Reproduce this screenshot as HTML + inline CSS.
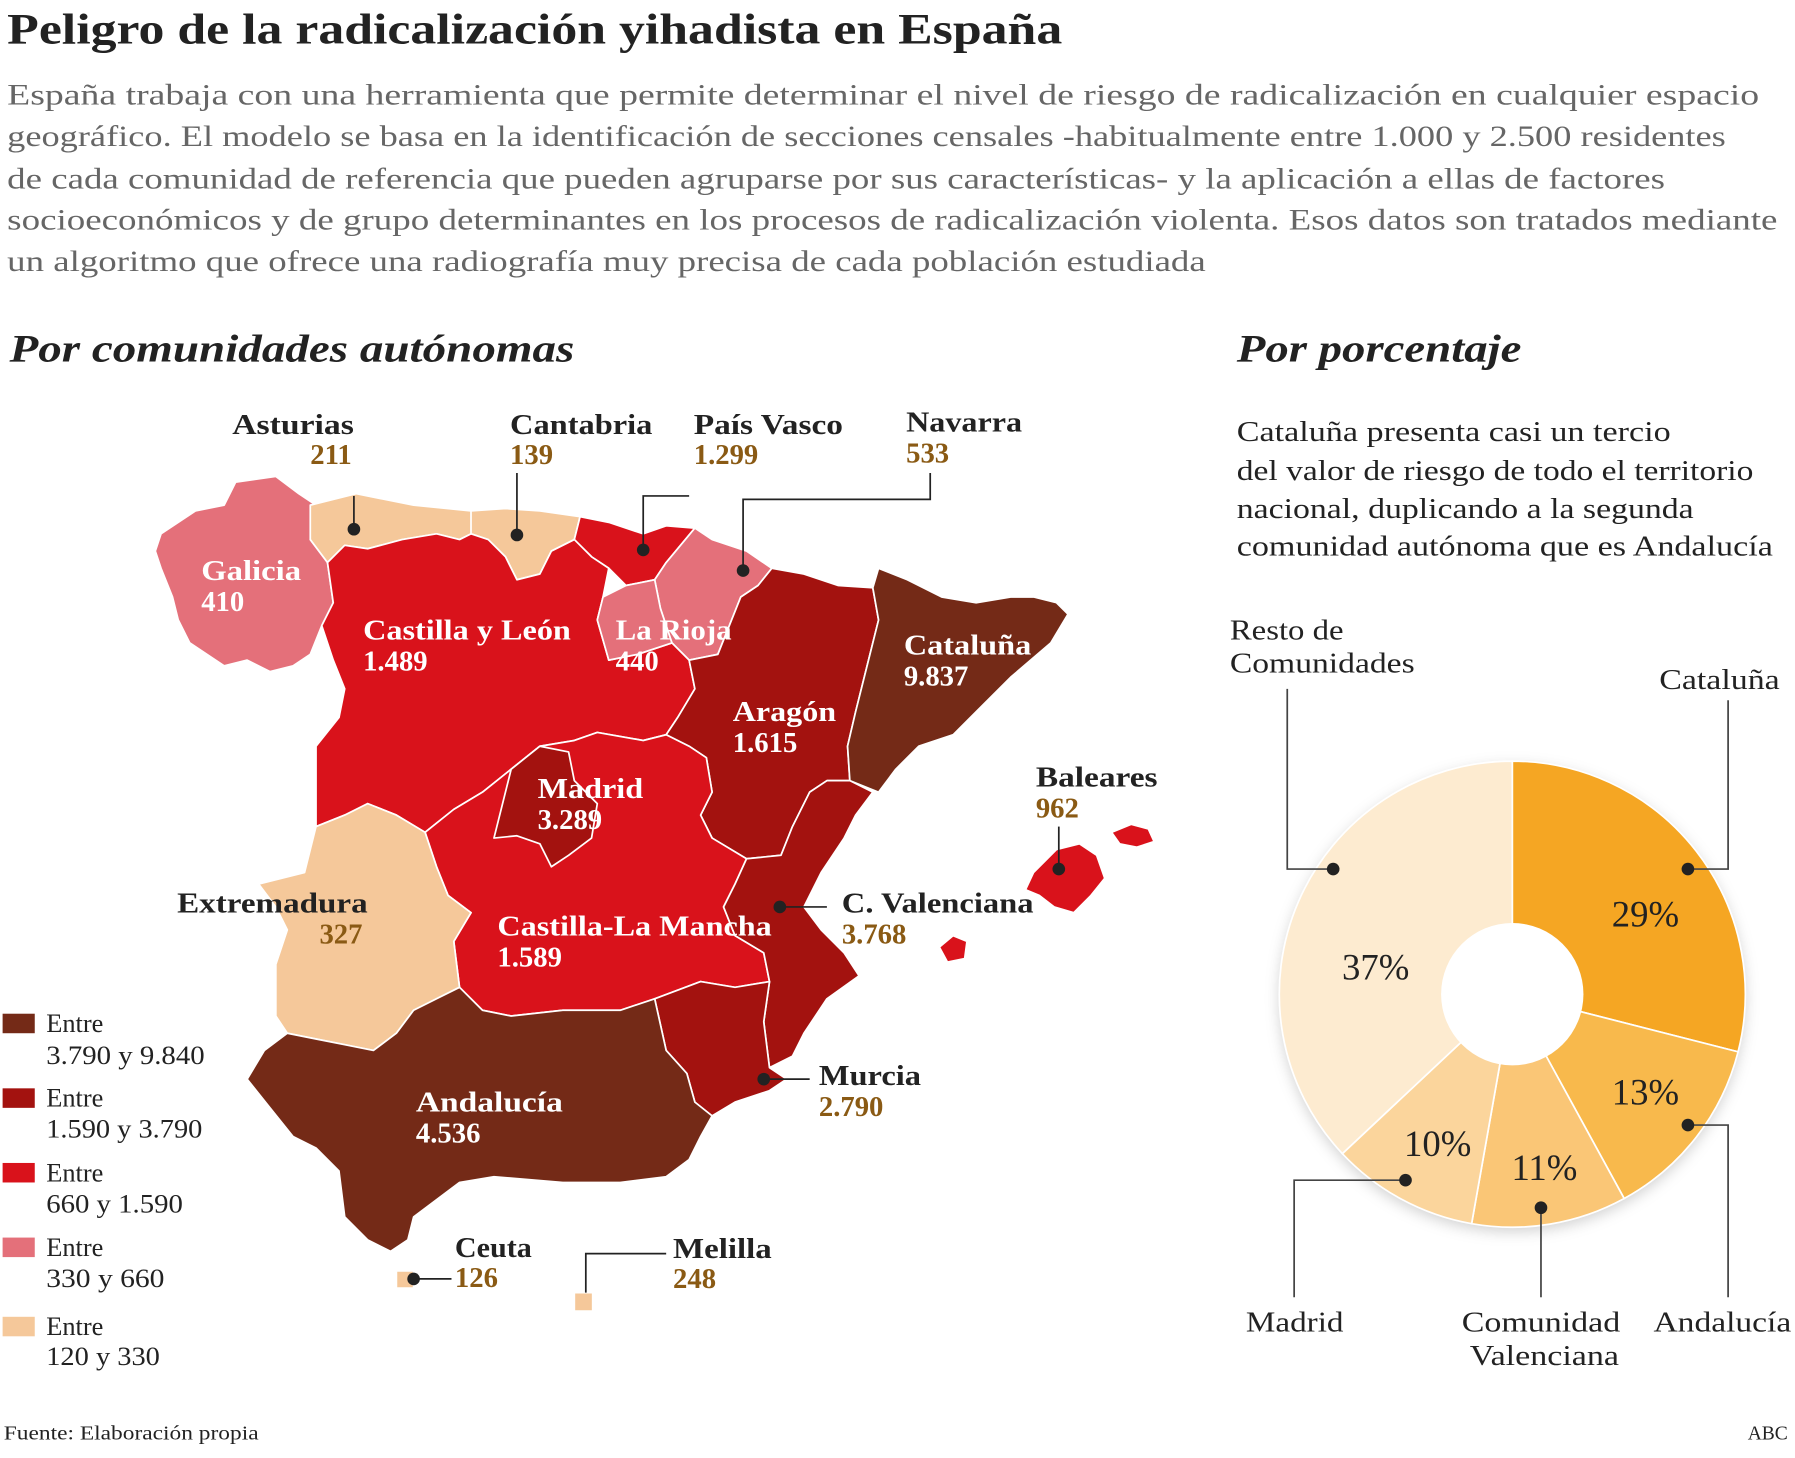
<!DOCTYPE html>
<html><head><meta charset="utf-8">
<style>
html,body{margin:0;padding:0;background:#fff;}
svg{display:block;}
text{font-family:"Liberation Serif",serif;}
.b{font-weight:bold;}
</style></head>
<body>
<svg width="1795" height="1458" viewBox="0 0 1563 1270" xmlns="http://www.w3.org/2000/svg">
<rect width="1563" height="1270" fill="#fff"/>
<text x="6" y="38" font-size="38" class="b" fill="#222" textLength="919" lengthAdjust="spacingAndGlyphs">Peligro de la radicalización yihadista en España</text>
<g font-size="26" fill="#666" lengthAdjust="spacingAndGlyphs">
<text x="6" y="91" textLength="1526" lengthAdjust="spacingAndGlyphs">España trabaja con una herramienta que permite determinar el nivel de riesgo de radicalización en cualquier espacio</text>
<text x="6" y="127" textLength="1497" lengthAdjust="spacingAndGlyphs">geográfico. El modelo se basa en la identificación de secciones censales -habitualmente entre 1.000 y 2.500 residentes</text>
<text x="6" y="164" textLength="1444" lengthAdjust="spacingAndGlyphs">de cada comunidad de referencia que pueden agruparse por sus características- y la aplicación a ellas de factores</text>
<text x="6" y="200" textLength="1542" lengthAdjust="spacingAndGlyphs">socioeconómicos y de grupo determinantes en los procesos de radicalización violenta. Esos datos son tratados mediante</text>
<text x="6" y="236" textLength="1044" lengthAdjust="spacingAndGlyphs">un algoritmo que ofrece una radiografía muy precisa de cada población estudiada</text>
</g>
<text x="8" y="315" font-size="34" font-style="italic" class="b" fill="#222" textLength="492" lengthAdjust="spacingAndGlyphs">Por comunidades autónomas</text>
<text x="1077" y="315" font-size="34" font-style="italic" class="b" fill="#222" textLength="248" lengthAdjust="spacingAndGlyphs">Por porcentaje</text>

<!-- map -->
<g stroke="#fff" stroke-width="1.5" stroke-linejoin="round">
<polygon fill="#e4707a" points="140,465 170,445 195,440 205,420 240,415 260,430 275,440 270,470 285,490 290,525 280,545 270,570 255,580 235,585 215,575 195,580 165,560 155,540 150,520 140,495 135,480"/>
<polygon fill="#f5c89a" points="270,440 310,430 360,440 410,445 420,460 410,465 400,470 380,465 350,470 320,478 300,475 285,490 270,470"/>
<polygon fill="#f5c89a" points="410,445 440,443 470,445 505,450 500,470 480,480 470,500 450,505 440,485 425,470 410,465"/>
<polygon fill="#d9121b" points="505,450 530,455 560,465 580,458 605,460 580,490 570,505 545,510 530,495 515,485 500,470"/>
<polygon fill="#e4707a" points="605,460 620,470 650,480 672,495 660,510 645,520 635,545 625,570 600,575 585,560 575,530 570,505 580,490"/>
<polygon fill="#d9121b" points="285,490 300,475 320,478 350,470 380,465 400,470 410,465 425,470 440,485 450,505 470,500 480,480 500,470 515,485 530,495 525,520 520,540 530,575 555,570 585,560 600,575 605,600 590,625 580,640 560,645 520,638 500,645 470,650 445,670 420,690 395,705 370,725 345,710 320,700 300,710 275,720 275,650 295,625 300,600 290,575 280,545 290,525"/>
<polygon fill="#e4707a" points="525,520 545,510 570,505 575,530 585,560 555,570 530,575 520,540"/>
<polygon fill="#a3120f" points="645,520 660,510 672,495 700,500 730,510 760,512 765,540 755,580 745,620 738,650 740,680 720,680 705,690 690,720 680,745 650,748 620,730 610,710 620,690 615,660 600,650 580,640 590,625 605,600 600,575 625,570 635,545"/>
<polygon fill="#742a17" points="760,512 765,495 790,505 820,520 850,525 880,520 900,520 920,525 930,535 915,560 880,590 850,620 830,640 800,650 780,670 765,690 740,680 738,650 745,620 755,580 765,540"/>
<polygon fill="#d9121b" points="370,725 395,705 420,690 445,670 470,650 500,645 520,638 560,645 580,640 600,650 615,660 620,690 610,710 620,730 650,748 640,770 630,790 640,815 665,830 670,855 640,860 610,855 570,870 540,880 490,880 445,885 420,880 400,860 395,820 410,795 390,780 380,755"/>
<polygon fill="#a3120f" points="445,670 470,650 495,655 500,680 520,700 515,730 495,745 480,755 470,735 450,728 430,730"/>
<polygon fill="#f5c89a" points="275,720 300,710 320,700 345,710 370,725 380,755 390,780 410,795 395,820 400,860 380,870 360,880 345,900 325,915 300,910 275,905 250,900 240,885 240,840 250,810 240,790 225,770 265,760 270,740"/>
<polygon fill="#a3120f" points="650,748 680,745 690,720 705,690 720,680 740,680 760,690 745,710 735,730 715,760 700,790 715,810 735,830 748,850 720,870 700,900 690,920 670,930 665,890 670,855 665,830 640,815 630,790 640,770"/>
<polygon fill="#a3120f" points="570,870 610,855 640,860 670,855 665,890 670,930 685,940 670,950 640,960 620,972 605,960 598,935 580,915"/>
<polygon fill="#742a17" points="250,900 275,905 300,910 325,915 345,900 360,880 380,870 400,860 420,880 445,885 490,880 540,880 570,870 580,915 598,935 605,960 620,972 610,990 600,1010 580,1025 540,1030 490,1030 430,1025 400,1030 380,1045 360,1060 355,1080 340,1090 320,1080 300,1060 295,1020 275,1000 255,990 235,965 215,940 230,915"/>
<polygon fill="#d9121b" points="900,760 920,740 940,735 955,745 962,765 950,780 935,795 918,790 905,780 893,775"/>
<polygon fill="#d9121b" points="968,725 985,718 1000,722 1005,733 990,738 975,735"/>
<polygon fill="#d9121b" points="818,825 830,815 842,820 840,835 825,838"/>
<rect x="345" y="1107" width="15" height="15" fill="#f5c89a"/>
<rect x="500" y="1126" width="16" height="16" fill="#f5c89a"/>
</g>
<g fill="#fff" font-size="25" class="b">
<text x="175" y="505" textLength="87" lengthAdjust="spacingAndGlyphs">Galicia</text><text x="175" y="532">410</text>
<text x="316" y="557" textLength="181" lengthAdjust="spacingAndGlyphs">Castilla y León</text><text x="316" y="584">1.489</text>
<text x="536" y="557" textLength="101" lengthAdjust="spacingAndGlyphs">La Rioja</text><text x="536" y="584">440</text>
<text x="638" y="628" textLength="90" lengthAdjust="spacingAndGlyphs">Aragón</text><text x="638" y="655">1.615</text>
<text x="787" y="570" textLength="111" lengthAdjust="spacingAndGlyphs">Cataluña</text><text x="787" y="597">9.837</text>
<text x="468" y="695" textLength="92" lengthAdjust="spacingAndGlyphs">Madrid</text><text x="468" y="722">3.289</text>
<text x="433" y="815" textLength="239" lengthAdjust="spacingAndGlyphs">Castilla-La Mancha</text><text x="433" y="842">1.589</text>
<text x="362" y="968" textLength="128" lengthAdjust="spacingAndGlyphs">Andalucía</text><text x="362" y="995">4.536</text>
</g>
<g font-size="25" class="b">
<text x="202" y="378" fill="#222" textLength="106" lengthAdjust="spacingAndGlyphs">Asturias</text><text x="270" y="404" fill="#8a5a14">211</text>
<text x="444" y="378" fill="#222" textLength="124" lengthAdjust="spacingAndGlyphs">Cantabria</text><text x="444" y="404" fill="#8a5a14">139</text>
<text x="604" y="378" fill="#222" textLength="130" lengthAdjust="spacingAndGlyphs">País Vasco</text><text x="604" y="404" fill="#8a5a14">1.299</text>
<text x="789" y="376" fill="#222" textLength="101" lengthAdjust="spacingAndGlyphs">Navarra</text><text x="789" y="403" fill="#8a5a14">533</text>
<text x="902" y="685" fill="#222" textLength="106" lengthAdjust="spacingAndGlyphs">Baleares</text><text x="902" y="712" fill="#8a5a14">962</text>
<text x="154" y="795" fill="#222" textLength="166" lengthAdjust="spacingAndGlyphs">Extremadura</text><text x="278" y="822" fill="#8a5a14">327</text>
<text x="733" y="795" fill="#222" textLength="167" lengthAdjust="spacingAndGlyphs">C. Valenciana</text><text x="733" y="822" fill="#8a5a14">3.768</text>
<text x="713" y="945" fill="#222" textLength="89" lengthAdjust="spacingAndGlyphs">Murcia</text><text x="713" y="972" fill="#8a5a14">2.790</text>
<text x="396" y="1095" fill="#222" textLength="67" lengthAdjust="spacingAndGlyphs">Ceuta</text><text x="396" y="1121" fill="#8a5a14">126</text>
<text x="586" y="1096" fill="#222" textLength="86" lengthAdjust="spacingAndGlyphs">Melilla</text><text x="586" y="1122" fill="#8a5a14">248</text>
</g>
<g stroke="#222" stroke-width="1.5" fill="none">
<polyline points="308,460 308,432"/>
<polyline points="450,465 450,412"/>
<polyline points="560,478 560,432 600,432"/>
<polyline points="647,497 647,435 810,435 810,412"/>
<polyline points="922,757 922,720"/>
<polyline points="679,790 720,790"/>
<polyline points="665,940 705,940"/>
<polyline points="360,1114 393,1114"/>
<polyline points="510,1126 510,1092 580,1092"/>
</g>
<g fill="#222">
<circle cx="308" cy="461" r="5.5"/><circle cx="450" cy="466" r="5.5"/><circle cx="560" cy="479" r="5.5"/>
<circle cx="647" cy="497" r="5.5"/><circle cx="922" cy="757" r="5.5"/><circle cx="679" cy="790" r="5.5"/>
<circle cx="665" cy="940" r="5.5"/><circle cx="360" cy="1114" r="5.5"/>
</g>
<!-- legend -->
<g font-size="23" fill="#222">
<rect x="2" y="883" width="28" height="17" fill="#742a17"/><text x="40" y="899">Entre</text><text x="40" y="927" textLength="138" lengthAdjust="spacingAndGlyphs">3.790 y 9.840</text>
<rect x="2" y="948" width="28" height="17" fill="#a3120f"/><text x="40" y="964">Entre</text><text x="40" y="991" textLength="136" lengthAdjust="spacingAndGlyphs">1.590 y 3.790</text>
<rect x="2" y="1013" width="28" height="17" fill="#d9121b"/><text x="40" y="1029">Entre</text><text x="40" y="1056" textLength="119" lengthAdjust="spacingAndGlyphs">660 y 1.590</text>
<rect x="2" y="1078" width="28" height="17" fill="#e4707a"/><text x="40" y="1094">Entre</text><text x="40" y="1121" textLength="103" lengthAdjust="spacingAndGlyphs">330 y 660</text>
<rect x="2" y="1147" width="28" height="17" fill="#f5c89a"/><text x="40" y="1163">Entre</text><text x="40" y="1189" textLength="99" lengthAdjust="spacingAndGlyphs">120 y 330</text>
</g>
<!-- right text -->
<g font-size="25" fill="#222">
<text x="1077" y="384" textLength="378" lengthAdjust="spacingAndGlyphs">Cataluña presenta casi un tercio</text>
<text x="1077" y="418" textLength="450" lengthAdjust="spacingAndGlyphs">del valor de riesgo de todo el territorio</text>
<text x="1077" y="451" textLength="398" lengthAdjust="spacingAndGlyphs">nacional, duplicando a la segunda</text>
<text x="1077" y="484" textLength="467" lengthAdjust="spacingAndGlyphs">comunidad autónoma que es Andalucía</text>
</g>
<!-- donut -->
<defs><filter id="sh" x="-20%" y="-20%" width="140%" height="140%"><feDropShadow dx="0" dy="4" stdDeviation="6" flood-color="#000" flood-opacity="0.18"/></filter></defs>
<g transform="translate(1317,866)" stroke="#fff" stroke-width="1.5">
<circle r="203" fill="#fdebd0" filter="url(#sh)" stroke="none"/>
<path d="M0,0 L0,-203 A203,203 0 0 1 196.7,50.2 Z" fill="#f5a623"/>
<path d="M0,0 L196.7,50.2 A203,203 0 0 1 97.5,178.0 Z" fill="#f8b94c"/>
<path d="M0,0 L97.5,178.0 A203,203 0 0 1 -35.4,199.9 Z" fill="#fac676"/>
<path d="M0,0 L-35.4,199.9 A203,203 0 0 1 -148.0,138.9 Z" fill="#fbd59c"/>
<path d="M0,0 L-148.0,138.9 A203,203 0 0 1 0,-203 Z" fill="#fdebd0"/>
<circle r="62" fill="#fff" stroke="none"/>
</g>
<g font-size="32" fill="#222" text-anchor="middle">
<text x="1433" y="807">29%</text><text x="1433" y="962">13%</text>
<text x="1345" y="1028">11%</text><text x="1252" y="1007">10%</text><text x="1198" y="853">37%</text>
</g>
<g stroke="#444" stroke-width="1.5" fill="none">
<polyline points="1470,757 1505,757 1505,610"/>
<polyline points="1470,980 1505,980 1505,1130"/>
<polyline points="1342,1052 1342,1130"/>
<polyline points="1224,1028 1127,1028 1127,1130"/>
<polyline points="1161,757 1121,757 1121,600"/>
</g>
<g fill="#222"><circle cx="1470" cy="757" r="5.5"/><circle cx="1470" cy="980" r="5.5"/><circle cx="1342" cy="1052" r="5.5"/><circle cx="1224" cy="1028" r="5.5"/><circle cx="1161" cy="757" r="5.5"/></g>
<g font-size="25" fill="#222">
<text x="1071" y="557" textLength="99" lengthAdjust="spacingAndGlyphs">Resto de</text><text x="1071" y="586" textLength="161" lengthAdjust="spacingAndGlyphs">Comunidades</text>
<text x="1445" y="600" textLength="105" lengthAdjust="spacingAndGlyphs">Cataluña</text>
<text x="1085" y="1160" textLength="85" lengthAdjust="spacingAndGlyphs">Madrid</text>
<text x="1273" y="1160" textLength="138" lengthAdjust="spacingAndGlyphs">Comunidad</text><text x="1280" y="1189" textLength="130" lengthAdjust="spacingAndGlyphs">Valenciana</text>
<text x="1440" y="1160" textLength="120" lengthAdjust="spacingAndGlyphs">Andalucía</text>
</g>
<text x="3" y="1254" font-size="17" fill="#222" textLength="222" lengthAdjust="spacingAndGlyphs">Fuente: Elaboración propia</text>
<text x="1557" y="1254" font-size="17" fill="#222" text-anchor="end">ABC</text>
</svg>
</body></html>
